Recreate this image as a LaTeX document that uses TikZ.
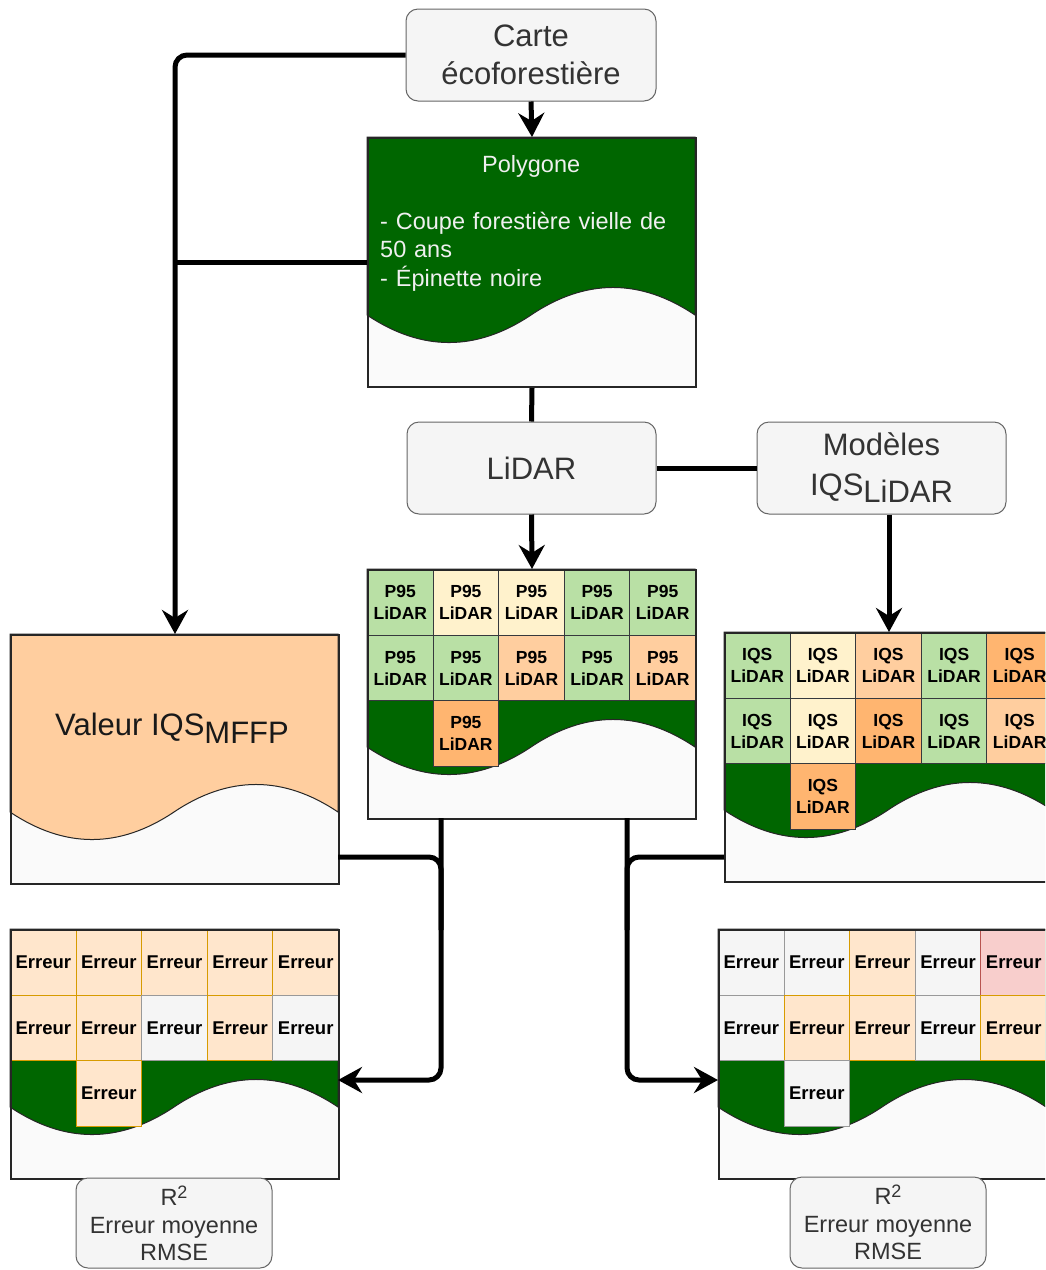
\documentclass[tikz,border=0pt]{standalone}
\usepackage{fontspec}
\setmainfont{Liberation Sans}
\usetikzlibrary{arrows.meta,calc}
\definecolor{boxfill}{HTML}{F5F5F5}
\definecolor{boxline}{HTML}{666666}
\definecolor{boxtext}{HTML}{333333}
\definecolor{dgreen}{HTML}{006600}
\definecolor{lowfill}{HTML}{FAFAFA}
\definecolor{cgreen}{HTML}{B9E0A5}
\definecolor{ccream}{HTML}{FFF2CC}
\definecolor{cpeach}{HTML}{FFCE9F}
\definecolor{corange}{HTML}{FFB570}
\definecolor{cline}{HTML}{36393D}
\definecolor{epeach}{HTML}{FFE6CC}
\definecolor{epeachl}{HTML}{D79B00}
\definecolor{egray}{HTML}{F5F5F5}
\definecolor{egrayl}{HTML}{999999}
\definecolor{epink}{HTML}{F8CECC}
\definecolor{epinkl}{HTML}{B85450}
\definecolor{polytxt}{HTML}{F0F0F0}
\tikzset{
  graybox/.style={draw=boxline, fill=boxfill, line width=1pt, rounded corners=12pt,
    text=boxtext, align=center, inner sep=0pt},
  bigframe/.style={draw=black!85, line width=2pt, minimum width=328pt,
    minimum height=249pt, inner sep=0pt, anchor=north west},
  cellnode/.style={line width=1pt, minimum width=65.6pt, minimum height=65.6pt,
    inner sep=0pt, anchor=north west, align=center, text=black},
  lidarfont/.style={font=\fontsize{17.5}{22}\selectfont\bfseries},
  errfont/.style={font=\fontsize{18.5}{22}\selectfont\bfseries},
  conn/.style={draw=black, line width=5pt},
  arr/.style={-{Stealth[length=24pt,width=26pt,inset=8pt]}},
}
% document (wavy) shape
\newcommand{\docshape}[3]{%
  \fill[lowfill] (#1,#2) rectangle ({#1+328},{#2+249});
  \filldraw[fill=#3, draw=black!85, line width=1pt] (#1,#2) -- ({#1+328},#2) -- ({#1+328},{#2+178})
    .. controls ({#1+273.33},{#2+141.3}) and ({#1+218.67},{#2+141.3}) .. ({#1+164},{#2+178})
    .. controls ({#1+109.33},{#2+214.7}) and ({#1+54.67},{#2+214.7}) .. (#1,{#2+178}) -- cycle;
}
\newcommand{\cellgrid}[6]{%
  \foreach \r/\c/\f/\d in {#6}{%
    \node[cellnode, #2, fill=\f, draw=\d] (#1-\r-\c) at ({#3+(\c-1)*65.6},{#4+(\r-1)*65.6}) {#5};
  }%
}
\begin{document}
\begin{tikzpicture}[x=1pt, y=-1pt]
\path[use as bounding box] (0,0) rectangle (1045,1270);
\clip (0,0) rectangle (1045,1270);

% ---- Polygone
\docshape{367}{137}{dgreen}
\node[bigframe] (poly) at (367,137) {};
\node[anchor=north west, inner sep=0pt, text=polytxt, align=left, text width=302pt,
  font=\fontsize{23.5}{28.5}\selectfont] (polytext) at (380,155)
  {\makebox[302pt][c]{Polygone}\\[28.5pt]- Coupe forestière vielle de\\50 ans\\- Épinette noire};

% ---- Valeur IQS MFFP
\docshape{10}{634}{cpeach}
\node[bigframe] (valeur) at (10,634) {};
\node[inner sep=0pt, font=\fontsize{31}{38}\selectfont, text=black!90] (valtext) at (172,728)
  {Valeur IQS\raisebox{-8pt}{MFFP}};

% ---- P95 grid
\docshape{367}{569}{dgreen}
\cellgrid{p}{lidarfont}{367}{569}{P95\\LiDAR}{1/1/cgreen/cline,1/2/ccream/cline,1/3/ccream/cline,1/4/cgreen/cline,1/5/cgreen/cline,
  2/1/cgreen/cline,2/2/cgreen/cline,2/3/cpeach/cline,2/4/cgreen/cline,2/5/cpeach/cline,3/2/corange/cline}
\node[bigframe] (p95) at (367,569) {};

% ---- IQS grid
\docshape{724}{632}{dgreen}
\cellgrid{q}{lidarfont}{724}{632}{IQS\\LiDAR}{1/1/cgreen/cline,1/2/ccream/cline,1/3/cpeach/cline,1/4/cgreen/cline,1/5/corange/cline,
  2/1/cgreen/cline,2/2/ccream/cline,2/3/corange/cline,2/4/cgreen/cline,2/5/cpeach/cline,3/2/corange/cline}
\node[bigframe] (iqs) at (724,632) {};

% ---- Error grids
\docshape{10}{929}{dgreen}
\cellgrid{el}{errfont}{10}{929}{Erreur}{1/1/epeach/epeachl,1/2/epeach/epeachl,1/3/epeach/epeachl,1/4/epeach/epeachl,1/5/epeach/epeachl,
  2/1/epeach/epeachl,2/2/epeach/epeachl,2/3/egray/egrayl,2/4/epeach/epeachl,2/5/egray/egrayl,3/2/epeach/epeachl}
\node[bigframe] (errL) at (10,929) {};

\docshape{718}{929}{dgreen}
\cellgrid{er}{errfont}{718}{929}{Erreur}{1/1/egray/egrayl,1/2/egray/egrayl,1/3/epeach/epeachl,1/4/egray/egrayl,1/5/epink/epinkl,
  2/1/egray/egrayl,2/2/epeach/epeachl,2/3/epeach/epeachl,2/4/egray/egrayl,2/5/epeach/epeachl,3/2/egray/egrayl}
\node[bigframe] (errR) at (718,929) {};

% ---- gray boxes
\node[graybox, minimum width=250pt, minimum height=92pt, font=\fontsize{31}{38}\selectfont]
  (carte) at (531,55) {Carte\\écoforestière};
\node[graybox, minimum width=249pt, minimum height=92pt, font=\fontsize{31}{38}\selectfont]
  (lidar) at (531.5,468) {LiDAR};
\node[graybox, minimum width=249pt, minimum height=92pt, font=\fontsize{31}{38}\selectfont]
  (modeles) at (881.5,468) {Modèles\\[2pt]IQS\raisebox{-7pt}{LiDAR}};
\node[graybox, minimum width=196pt, minimum height=90pt, font=\fontsize{23.5}{27}\selectfont]
  (statL) at (174,1223) {R\raisebox{7pt}{\fontsize{18}{18}\selectfont 2}\\[1pt]Erreur moyenne\\RMSE};
\node[graybox, minimum width=196pt, minimum height=91pt, font=\fontsize{23.5}{27}\selectfont]
  (statR) at (888,1222.5) {R\raisebox{7pt}{\fontsize{18}{18}\selectfont 2}\\[1pt]Erreur moyenne\\RMSE};

% ---- connectors
\coordinate (pl) at (441,818);
\coordinate (pr) at (627,818);
\coordinate (eL) at (338,1080);
\coordinate (eR) at (718,1080);
\coordinate (vL) at (338,857);
\coordinate (iR) at (724,857);
\coordinate (jL) at (441,930);
\coordinate (jR) at (627,930);

\draw[conn, arr] (carte.south) -- (poly.north);
\draw[conn, arr, rounded corners=12pt] (carte.west) -| (valeur.north);
\draw[conn] (poly.west) -- (poly.west -| valeur.north);
\draw[conn] (poly.south) -- (lidar.north);
\draw[conn] (lidar.east) -- (modeles.west);
\draw[conn, arr] (lidar.south) -- (p95.north);
\draw[conn, arr] (modeles.south -| iqs.north) -- (iqs.north);
\draw[conn, arr, rounded corners=12pt] (pl) |- (eL);
\draw[conn, rounded corners=12pt] (vL) -| (jL);
\draw[conn, arr, rounded corners=12pt] (pr) |- (eR);
\draw[conn, rounded corners=12pt] (iR) -| (jR);
\end{tikzpicture}
\end{document}
